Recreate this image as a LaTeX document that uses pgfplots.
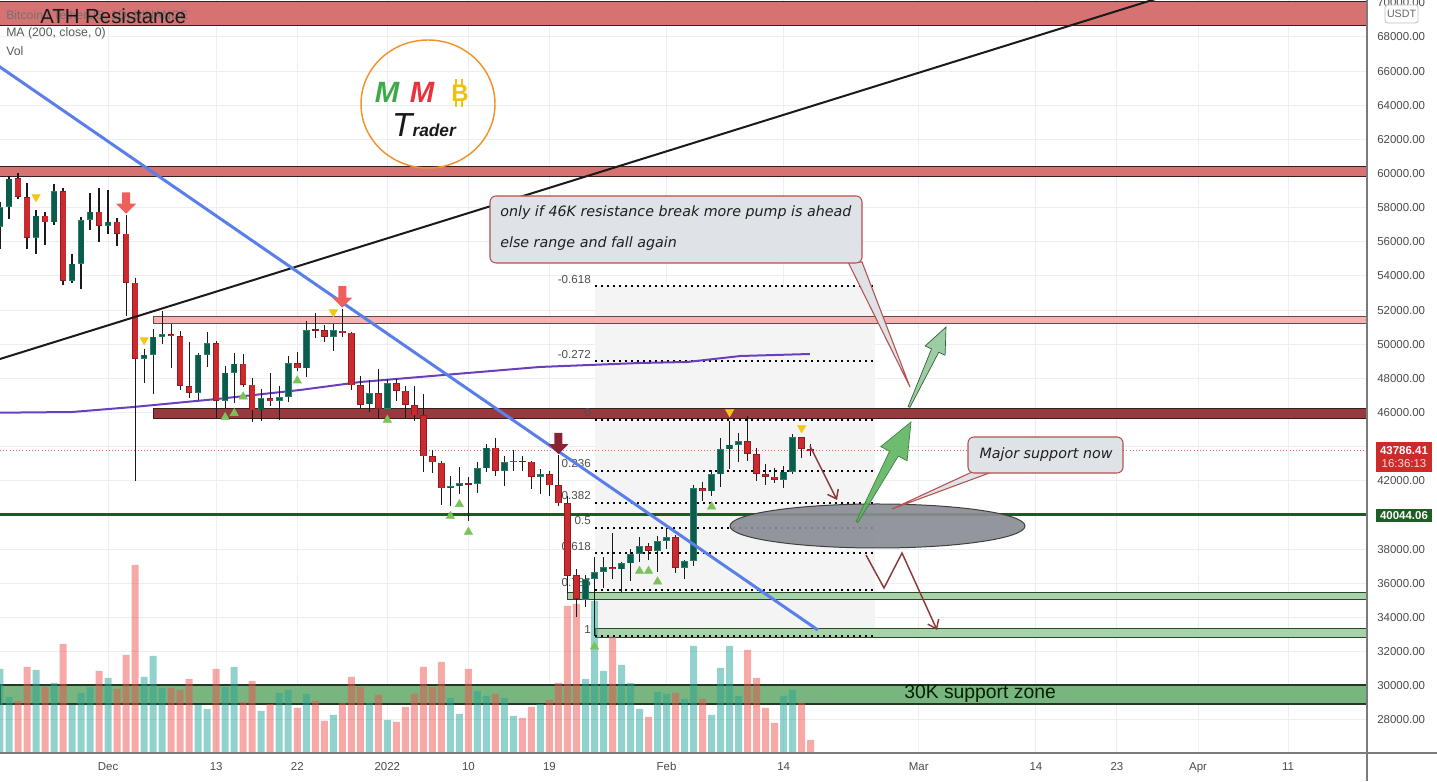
\documentclass[border=0pt]{standalone}
\usepackage{fontspec}
\setmainfont{Liberation Sans}
\newfontfamily\dejavu{DejaVu Sans}
\usepackage{pgfplots}
\pgfplotsset{compat=1.18}
\usepackage{pgfplotstable}
\usetikzlibrary{arrows.meta}

\definecolor{gridc}{HTML}{ECEEF2}
\definecolor{tickc}{HTML}{4A4A4A}
\definecolor{athfill}{HTML}{D67272}
\definecolor{zoneedge}{HTML}{3A1E1E}
\definecolor{pinkfill}{HTML}{F7B3B3}
\definecolor{dredfill}{HTML}{963A40}
\definecolor{lgreen}{HTML}{A6D3A8}
\definecolor{gedge}{HTML}{2C472C}
\definecolor{zone30}{HTML}{79B57E}
\definecolor{sline}{HTML}{1E5A22}
\definecolor{volup}{HTML}{26A69A}
\definecolor{voldn}{HTML}{EF5350}
\definecolor{upfill}{HTML}{0B5C4A}
\definecolor{upedge}{HTML}{2A7F6C}
\definecolor{dnfill}{HTML}{CC2A2F}
\definecolor{dnedge}{HTML}{8E1D21}
\definecolor{wick}{HTML}{1A1A1A}
\definecolor{mac}{HTML}{6A3FBF}
\definecolor{bluetl}{HTML}{5A7FEA}
\definecolor{fibbg}{HTML}{F4F4F5}
\definecolor{yellowm}{HTML}{F5C518}
\definecolor{greenm}{HTML}{7CC25A}
\definecolor{salmon}{HTML}{EF5F5C}
\definecolor{darkred}{HTML}{8B2233}
\definecolor{curline}{HTML}{E06666}
\definecolor{callfill}{HTML}{DFE2E6}
\definecolor{calledge}{HTML}{B5514E}
\definecolor{arrowred}{HTML}{8B3A3A}
\definecolor{ellfill}{HTML}{8A8D95}
\definecolor{greenA}{HTML}{5DB55F}
\definecolor{greenB}{HTML}{8CC495}
\definecolor{logoorange}{HTML}{F0932B}
\definecolor{logogreen}{HTML}{3DAA47}
\definecolor{logored}{HTML}{E8323C}
\definecolor{logogold}{HTML}{EEC10A}
\definecolor{pricered}{HTML}{CD2A2A}
\definecolor{pricegreen}{HTML}{1E5E22}
\definecolor{axisc}{HTML}{7B7B7B}

% BTCUSDT daily, day 0 = 1 Jan 2022; v = relative volume
\pgfplotstableread{
d o h l c v
-43 56891 58320 55600 58052 84
-42 58057 59845 57353 59707 56
-41 59730 60029 58486 58622 52
-40 58617 59444 55610 56247 86
-39 56247 57875 55317 57541 83
-38 57541 57735 55837 57138 66
-37 57138 59398 57000 58960 70
-36 58960 59150 53500 53726 109
-35 53723 55280 53610 54721 48
-34 54716 57445 53256 57274 60
-33 57274 58865 56666 57776 66
-32 57777 59176 56000 56950 82
-31 56950 59053 56458 57184 75
-30 57184 57375 55777 56480 64
-29 56484 57600 51680 53601 98
-28 53602 53859 42000 49152 188
-27 49152 49699 47727 49397 76
-26 49397 50891 47100 50441 97
-25 50441 51936 50039 50588 65
-24 50589 51200 48600 50472 65
-23 50471 50797 47320 47545 63
-22 47535 50125 46852 47140 74
-21 47140 49485 46751 49389 48
-20 49389 50724 48650 50053 44
-19 50053 50189 45672 46702 84
-18 46702 48700 46290 48343 66
-17 48336 49500 46547 48864 86
-16 48864 49436 47511 47632 51
-15 47632 47995 45456 46131 72
-14 46133 47392 45500 46834 42
-13 46834 48300 46406 46681 49
-12 46681 47537 45558 46914 60
-11 46914 49328 46630 48889 63
-10 48887 49576 48421 48588 45
-9 48588 51375 48066 50838 59
-8 50838 51810 50384 50821 52
-7 50821 51156 50142 50429 32
-6 50428 51196 49623 50809 38
-5 50802 52088 50450 50640 50
-4 50680 50704 47313 47588 76
-3 47623 48119 46201 46464 66
-2 46490 47879 46060 47120 50
-1 47135 48548 45678 46216 58
0 46217 47954 46208 47722 33
1 47722 47990 46654 47286 31
2 47287 47570 45696 46446 46
3 46446 47557 45500 45833 59
4 45833 47070 42500 43432 86
5 43451 43816 42430 43082 66
6 43071 43145 40610 41566 91
7 41558 42304 40501 41680 55
8 41678 42786 41200 41864 39
9 41865 42248 39650 41822 84
10 41822 43100 41268 42735 62
11 42735 44135 42528 43950 57
12 43950 44500 42311 42591 59
13 42592 43447 41725 43099 55
14 43099 43800 42563 43177 37
15 43172 43475 42581 43113 35
16 43118 43179 41540 42250 46
17 42250 42664 41250 42375 49
18 42374 42583 41138 41744 53
19 41744 43505 40553 40680 70
20 40681 41100 35440 36445 147
21 36471 36835 34008 35071 149
22 35031 36499 34601 36244 74
23 36255 37550 32917 36660 152
24 36660 37545 35701 36958 82
25 36958 38919 36234 36809 116
26 36807 37234 35507 37160 88
27 37160 38000 36155 37716 70
28 37716 38720 37268 38166 44
29 38166 38359 37351 37881 36
30 37882 38744 36632 38466 61
31 38466 39265 38000 38690 59
32 38690 38835 36586 36896 60
33 36896 37387 36250 37311 54
34 37310 41772 37026 41574 107
35 41575 41913 40843 41382 54
36 41382 42657 41116 42380 38
37 42380 44500 41645 43840 85
38 43840 45492 42667 44118 107
39 44118 44799 43117 44338 57
40 44339 45821 43174 43565 103
41 43565 43920 42000 42407 75
42 42408 43000 41748 42244 45
43 42244 42760 41870 42064 30
44 42065 42876 41570 42535 57
45 42535 44770 42428 44544 63
46 44544 44580 43311 43873 50
47 43873 44164 43480 43786 13
}\btc

\pgfdeclareplotmark{bigdn}{%
  \pgfpathmoveto{\pgfqpoint{0pt}{0pt}}%
  \pgfpathlineto{\pgfqpoint{7.5pt}{7.5pt}}%
  \pgfpathlineto{\pgfqpoint{3pt}{7.5pt}}%
  \pgfpathlineto{\pgfqpoint{3pt}{16pt}}%
  \pgfpathlineto{\pgfqpoint{-3pt}{16pt}}%
  \pgfpathlineto{\pgfqpoint{-3pt}{7.5pt}}%
  \pgfpathlineto{\pgfqpoint{-7.5pt}{7.5pt}}%
  \pgfpathclose
  \pgfusepathqfill}

\pgfplotsset{
  body/.style 2 args={draw=none, mark=none,
    error bars/y dir=both, error bars/y explicit, error bars/error mark=none,
    error bars/error bar style={draw=#1, line width=#2}},
  up/.style={restrict expr to domain={\thisrow{c}-\thisrow{o}}{0:1000000}},
  dn/.style={restrict expr to domain={\thisrow{c}-\thisrow{o}}{-1000000:-0.001}},
}
\tikzset{
  fibl/.style={black, line width=1.5pt, dash pattern=on 1.5pt off 3pt},
  fibt/.style={anchor=east, inner sep=0pt, font=\fontsize{8.7}{10}\selectfont, text=black!70, yshift=5.25pt},
}

\begin{document}
\begin{tikzpicture}
\begin{axis}[
  scale only axis, width=1025.25pt, height=564.75pt,
  at={(0pt,21pt)}, anchor=south west,
  xmin=-43.0, xmax=108.76, ymin=26057, ymax=70167,
  axis line style={draw=none}, tick style={draw=none},
  xtick={-31,-19,-10,0,9,18,31,44,59,72,81,90,100},
  xticklabels={Dec,13,22,2022,10,19,Feb,14,Mar,14,23,Apr,11},
  ytick={28000,30000,32000,34000,36000,38000,42000,46000,48000,50000,52000,54000,56000,58000,60000,62000,64000,66000,68000,70000},
  extra y ticks={40000,44000}, extra y tick labels={},
  extra y tick style={grid=major},
  scaled y ticks=false,
  yticklabel pos=right,
  grid=major, major grid style={draw=gridc, line width=0.75pt},
  ticklabel style={font=\fontsize{8.6}{10}\selectfont, text=tickc},
  yticklabel style={anchor=west, inner sep=0pt, xshift=7.5pt},
  xticklabel style={anchor=north, inner sep=0pt, yshift=-6.75pt},
  /pgf/number format/.cd, fixed, fixed zerofill, precision=2, 1000 sep={}, assume math mode=true,
]
% fib background
\fill[fibbg] (axis cs:23.06,32910) rectangle (axis cs:54.1,53384);
% zones
\filldraw[fill=athfill, draw=zoneedge, line width=0.75pt] (axis cs:-43,68700) rectangle (axis cs:108.76,70050);
\filldraw[fill=athfill, draw=zoneedge, line width=0.75pt] (axis cs:-43,59800) rectangle (axis cs:108.76,60385);
\filldraw[fill=pinkfill, draw=zoneedge!80, line width=0.75pt] (axis cs:-26.0,51190) rectangle (axis cs:108.76,51655);
\filldraw[fill=dredfill, draw=zoneedge, line width=0.75pt] (axis cs:-26.0,45680) rectangle (axis cs:108.76,46210);
\filldraw[fill=lgreen, draw=gedge, line width=0.75pt] (axis cs:19.95,35020) rectangle (axis cs:108.76,35488);
\filldraw[fill=lgreen, draw=gedge, line width=0.75pt] (axis cs:23.06,32850) rectangle (axis cs:108.76,33378);
\filldraw[fill=zone30, draw=gedge!80!black, line width=1.1pt] (axis cs:-43,28926) rectangle (axis cs:108.76,30040);
% volume
\addplot[up, ybar, bar width=5.25pt, bar shift=0pt, draw=none, fill=volup, fill opacity=0.5]
  table[x=d, y expr={26057+58.58*\thisrow{v}}] {\btc};
\addplot[dn, ybar, bar width=5.25pt, bar shift=0pt, draw=none, fill=voldn, fill opacity=0.5]
  table[x=d, y expr={26057+58.58*\thisrow{v}}] {\btc};
% support line and current price
\draw[sline, line width=2.25pt] (axis cs:-43,40044.06) -- (axis cs:108.76,40044.06);
\draw[curline, line width=0.6pt, dash pattern=on 0.8pt off 1.6pt] (axis cs:-43,43786.41) -- (axis cs:108.76,43786.41);
% fib levels
\draw[fibl] (axis cs:23.06,53384) -- (axis cs:54.1,53384);
\draw[fibl] (axis cs:23.06,49006) -- (axis cs:54.1,49006);
\draw[fibl] (axis cs:23.06,45564) -- (axis cs:54.1,45564);
\draw[fibl] (axis cs:23.06,42578) -- (axis cs:54.1,42578);
\draw[fibl] (axis cs:23.06,40730) -- (axis cs:54.1,40730);
\draw[fibl] (axis cs:23.06,39237) -- (axis cs:54.1,39237);
\draw[fibl] (axis cs:23.06,37744) -- (axis cs:54.1,37744);
\draw[fibl] (axis cs:23.06,35618) -- (axis cs:54.1,35618);
\draw[fibl] (axis cs:23.06,32910) -- (axis cs:54.1,32910);
\node[fibt] at (axis cs:22.61,53384) {-0.618};
\node[fibt] at (axis cs:22.61,49006) {-0.272};
\node[fibt] at (axis cs:22.61,45564) {0};
\node[fibt] at (axis cs:22.61,42578) {0.236};
\node[fibt] at (axis cs:22.61,40730) {0.382};
\node[fibt] at (axis cs:22.61,39237) {0.5};
\node[fibt] at (axis cs:22.61,37744) {0.618};
\node[fibt] at (axis cs:22.61,35618) {0.786};
\node[fibt] at (axis cs:22.61,32910) {1};
% MA 200
\addplot[mac, line width=1.5pt] coordinates {(-43.0,45991) (-35.0,46032) (-28.2,46325) (-18.9,46794) (-9.7,47321) (-3.0,47790) (3.6,48083) (16.9,48669) (28.0,48903) (33.3,48962) (39.2,49313) (46.9,49430)};
% candles
\addplot[body={wick}{0.9pt}] table[x=d, y expr={(\thisrow{h}+\thisrow{l})/2}, y error expr={(\thisrow{h}-\thisrow{l})/2}] {\btc};
\addplot[up, body={upedge}{4.9pt}]
  table[x=d, y expr={(\thisrow{o}+\thisrow{c})/2}, y error expr={max(abs(\thisrow{c}-\thisrow{o})/2,40)}] {\btc};
\addplot[up, body={upfill}{3.8pt}]
  table[x=d, y expr={(\thisrow{o}+\thisrow{c})/2}, y error expr={max(abs(\thisrow{c}-\thisrow{o})/2-40,0)}] {\btc};
\addplot[dn, body={dnedge}{4.9pt}]
  table[x=d, y expr={(\thisrow{o}+\thisrow{c})/2}, y error expr={max(abs(\thisrow{c}-\thisrow{o})/2,40)}] {\btc};
\addplot[dn, body={dnfill}{3.8pt}]
  table[x=d, y expr={(\thisrow{o}+\thisrow{c})/2}, y error expr={max(abs(\thisrow{c}-\thisrow{o})/2-40,0)}] {\btc};
% signal marks
\addplot[only marks, mark=triangle*, mark size=3.6pt, color=yellowm, mark options={rotate=180, fill=yellowm, draw=yellowm}]
  coordinates {(-39,58627) (-27,50250) (-6,51890) (38,46032) (46,45095)};
\addplot[only marks, mark=triangle*, mark size=3.6pt, color=greenm, mark options={fill=greenm, draw=greenm}]
  coordinates {(-18,45722) (-17,45958) (-16,46934) (-10,47872) (0,45564) (7,39940) (8,40625) (9,39000) (23,32283) (28,36717) (29,36717) (30,36093) (36,40486)};
\addplot[only marks, mark=bigdn, mark options={fill=salmon, draw=none}] coordinates {(-29,57650) (-5,52150)};
\addplot[only marks, mark=bigdn, mark options={fill=darkred, draw=none}] coordinates {(19,43560)};
% trend lines
\addplot[wick, line width=1.5pt] coordinates {(-43,49137) (108.76,74086)};
\addplot[bluetl, line width=2.25pt] coordinates {(-44,66603) (47.8,33262)};
\node[font=\fontsize{14.5}{16}\selectfont, text=black!75!green!50!black] at (axis cs:65.8,29520) {30K support zone};
\end{axis}

\begin{scope}[x=0.75pt, y=-0.75pt, shift={(0pt,585.75pt)}]
% axis lines
\draw[axisc, line width=1.1pt] (0,753) -- (1437,753);
\draw[axisc, line width=1.1pt] (1367,0) -- (1367,781);
% legend text
\node[anchor=west, inner sep=0pt, font=\fontsize{9.2}{10}\selectfont, text=black!55] at (6,16) {Bitcoin / TetherUS, 1D, BINANCE};
\node[anchor=west, inner sep=0pt, font=\fontsize{9.2}{10}\selectfont, text=black!65] at (6,33) {MA (200, close, 0)};
\node[anchor=west, inner sep=0pt, font=\fontsize{9.2}{10}\selectfont, text=black!65] at (6,51) {Vol};
\node[anchor=west, inner sep=0pt, font=\fontsize{15.3}{17}\selectfont, text=black!90] at (40,16) {ATH Resistance};
% logo
\draw[logoorange, line width=1.1pt] (428,104) ellipse (50.25pt and 48pt);
\node[font=\fontsize{22}{22}\bfseries\itshape\selectfont, text=logogreen] at (387,92) {M};
\node[font=\fontsize{22}{22}\bfseries\itshape\selectfont, text=logored] at (422,92) {M};
\node[font=\fontsize{18}{18}\bfseries\selectfont, text=logogold] at (460,93) {B};
\draw[logogold, line width=1.6pt] (456,79) -- (456,85) (462,79) -- (462,85) (456,101) -- (456,107) (462,101) -- (462,107);
\node[anchor=base, inner sep=0pt, text=black!90] at (424,137) {{\fontsize{25}{25}\itshape\selectfont T}{\fontsize{13}{13}\bfseries\itshape\selectfont rader}};
% callout 1
\filldraw[fill=callfill, draw=calledge, line width=0.8pt] (848,262) -- (910,387) -- (862,262) -- cycle;
\filldraw[fill=callfill, draw=calledge, line width=0.8pt, rounded corners=4.5pt] (490,196) rectangle (862,263);
\node[anchor=west, inner sep=0pt, font=\dejavu\itshape\fontsize{10.7}{12}\selectfont, text=black!88] at (500,213) {only if 46K resistance break more pump is ahead};
\node[anchor=west, inner sep=0pt, font=\dejavu\itshape\fontsize{10.7}{12}\selectfont, text=black!88] at (500,244) {else range and fall again};
% ellipse
\filldraw[fill=ellfill, fill opacity=0.92, draw=black!75, line width=0.75pt] (877.5,526) ellipse (110.6pt and 16.5pt);
% callout 2
\filldraw[fill=callfill, draw=calledge, line width=0.8pt] (972,472) -- (892,509) -- (992,472) -- cycle;
\filldraw[fill=callfill, draw=calledge, line width=0.8pt, rounded corners=4.5pt] (968,437) rectangle (1123,473);
\node[inner sep=0pt, font=\dejavu\itshape\fontsize{10.7}{12}\selectfont, text=black!88] at (1046,455) {Major support now};
% green arrows
\filldraw[fill=greenA, fill opacity=0.9, draw=greenA!70!black, line width=0.5pt]
  (856.1,521.5) -- (889.5,451.3) -- (880.7,446.6) -- (911,422) -- (907.1,460.8) -- (898.3,456.1) -- (857.9,522.5) -- cycle;
\filldraw[fill=greenB, fill opacity=0.85, draw=greenA!50!black, line width=0.5pt]
  (908.1,406.6) -- (931.5,348.9) -- (925.1,346) -- (946,327) -- (945.1,355.2) -- (938.7,352.3) -- (909.9,407.4) -- cycle;
% thin red arrows
\draw[arrowred, line width=1.1pt, -{Straight Barb[length=6pt, width=9pt]}] (810,446) -- (837,500);
\draw[arrowred, line width=1.1pt, -{Straight Barb[length=6pt, width=9pt]}] (866,555) -- (884,588) -- (902,553) -- (937,630);
% price labels on the scale
\fill[pricered] (1376,442) rectangle (1432,472);
\node[font=\fontsize{8.6}{9}\bfseries\selectfont, text=white] at (1404,451) {43786.41};
\node[font=\fontsize{8.6}{9}\selectfont, text=red!15] at (1404,464) {16:36:13};
\fill[pricegreen] (1376,509) rectangle (1432,522);
\node[font=\fontsize{8.6}{9}\bfseries\selectfont, text=white] at (1404,515.5) {40044.06};
\filldraw[fill=white, draw=black!25, line width=0.6pt, rounded corners=2pt] (1385,5) rectangle (1418,23);
\node[font=\fontsize{8}{9}\selectfont, text=black!60] at (1401.5,14) {USDT};
\end{scope}
\pgfresetboundingbox
\path[use as bounding box] (0pt,0pt) rectangle (1077.75pt,585.75pt);
\end{tikzpicture}
\end{document}
